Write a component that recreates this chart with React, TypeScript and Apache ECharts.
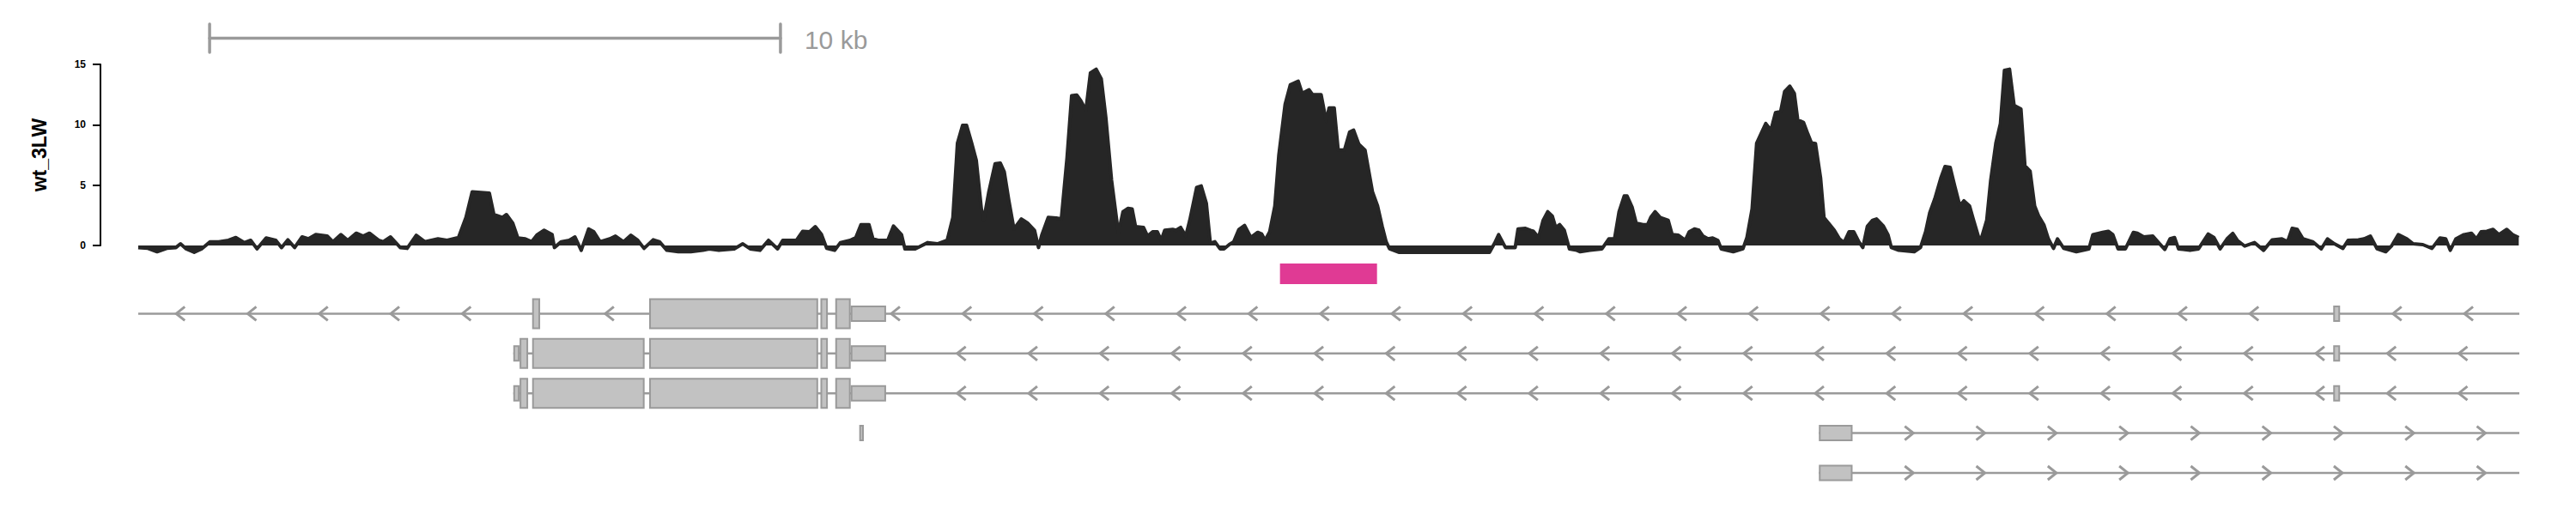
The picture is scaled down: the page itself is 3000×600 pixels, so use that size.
import React, { useEffect, useRef } from "react";
import * as echarts from "echarts";

// ---------- data (positions in kb from the left edge of the region) ----------
const REGION_KB = 41.71;
const trackName = "wt_3LW";
const yTicks = [0, 5, 10, 15];

const signalKb = [
  0.00, 0.17, 0.33, 0.50, 0.66, 0.74, 0.84, 0.98, 1.11, 1.26, 1.41, 1.58, 1.71, 1.86, 1.97, 2.08, 2.24, 2.41, 2.51, 2.62,
  2.74, 2.87, 2.98, 3.11, 3.31, 3.41, 3.55, 3.67, 3.82, 3.94, 4.05, 4.21, 4.29, 4.42, 4.59, 4.71, 4.87, 5.02, 5.25, 5.41,
  5.61, 5.74, 5.85, 6.15, 6.23, 6.38, 6.45, 6.56, 6.65, 6.78, 6.89, 6.99, 7.11, 7.25, 7.29, 7.41, 7.55, 7.65, 7.76, 7.89,
  7.98, 8.09, 8.26, 8.36, 8.50, 8.63, 8.75, 8.86, 9.02, 9.13, 9.26, 9.46, 9.68, 9.89, 10.00, 10.17, 10.44, 10.59, 10.72, 10.89,
  11.04, 11.20, 11.29, 11.53, 11.64, 11.76, 11.86, 11.97, 12.06, 12.20, 12.30, 12.47, 12.57, 12.66, 12.80, 12.87, 12.96, 13.13, 13.23, 13.37,
  13.43, 13.61, 13.83, 14.00, 14.17, 14.27, 14.35, 14.44, 14.51, 14.60, 14.68, 14.77, 14.81, 14.90, 15.01, 15.10, 15.17, 15.25, 15.34, 15.47,
  15.58, 15.70, 15.77, 15.83, 15.94, 16.08, 16.17, 16.27, 16.35, 16.44, 16.51, 16.60, 16.68, 16.78, 16.87, 16.95, 17.05, 17.17, 17.25, 17.34,
  17.41, 17.47, 17.61, 17.68, 17.77, 17.85, 17.92, 17.98, 18.12, 18.18, 18.26, 18.35, 18.42, 18.54, 18.62, 18.71, 18.78, 18.86, 18.95, 19.02,
  19.11, 19.19, 19.28, 19.38, 19.49, 19.61, 19.68, 19.74, 19.82, 19.91, 19.98, 20.09, 20.18, 20.32, 20.39, 20.51, 20.57, 20.72, 20.81, 20.86,
  20.95, 21.02, 21.13, 21.22, 21.29, 21.38, 21.49, 21.62, 21.71, 21.79, 21.86, 21.92, 22.09, 22.69, 23.67, 23.76, 23.83, 23.95, 24.12, 24.17,
  24.30, 24.39, 24.44, 24.53, 24.61, 24.69, 24.77, 24.83, 24.90, 24.98, 25.07, 25.20, 25.26, 25.43, 25.64, 25.76, 25.86, 25.94, 26.03, 26.08,
  26.17, 26.24, 26.36, 26.44, 26.50, 26.57, 26.66, 26.80, 26.87, 26.98, 27.10, 27.17, 27.26, 27.34, 27.41, 27.50, 27.58, 27.67, 27.73, 27.94,
  28.11, 28.18, 28.27, 28.35, 28.44, 28.51, 28.60, 28.68, 28.77, 28.84, 28.93, 29.01, 29.07, 29.17, 29.25, 29.31, 29.38, 29.47, 29.53, 29.61,
  29.71, 29.80, 29.88, 29.97, 30.05, 30.14, 30.21, 30.29, 30.38, 30.45, 30.57, 30.65, 30.71, 30.84, 31.11, 31.22, 31.31, 31.38, 31.47, 31.58,
  31.65, 31.74, 31.82, 31.91, 31.98, 32.08, 32.15, 32.24, 32.29, 32.38, 32.45, 32.54, 32.62, 32.69, 32.78, 32.86, 32.98, 33.05, 33.14, 33.22,
  33.29, 33.38, 33.46, 33.55, 33.62, 33.73, 33.95, 34.17, 34.24, 34.41, 34.51, 34.59, 34.68, 34.81, 34.95, 35.02, 35.13, 35.29, 35.40, 35.50,
  35.59, 35.67, 35.74, 35.94, 36.09, 36.26, 36.36, 36.47, 36.59, 36.69, 36.77, 36.90, 37.07, 37.23, 37.38, 37.55, 37.65, 37.73, 37.82, 37.92,
  38.09, 38.24, 38.35, 38.47, 38.62, 38.71, 38.89, 38.99, 39.10, 39.22, 39.37, 39.47, 39.59, 39.74, 39.85, 40.02, 40.18, 40.32, 40.42, 40.50,
  40.60, 40.74, 40.87, 40.96, 41.04, 41.14, 41.25, 41.35, 41.49, 41.59, 41.70,
];

const signalValue = [
  -0.17, -0.24, -0.52, -0.24, -0.17, 0.14, -0.28, -0.57, -0.28, 0.31, 0.31, 0.43, 0.66, 0.24, 0.43, -0.28, 0.62, 0.43, -0.17, 0.47,
  -0.17, 0.71, 0.55, 0.90, 0.78, 0.31, 0.90, 0.43, 1.02, 0.78, 1.02, 0.43, 0.31, 0.71, -0.17, -0.24, 0.85, 0.31, 0.55, 0.43,
  0.66, 2.32, 4.45, 4.34, 2.56, 2.32, 2.56, 1.85, 0.62, 0.55, 0.31, 0.90, 1.26, 0.90, -0.17, 0.31, 0.43, 0.71, -0.40, 1.37,
  1.14, 0.31, 0.55, 0.78, 0.31, 0.85, 0.43, -0.24, 0.47, 0.31, -0.40, -0.52, -0.52, -0.40, -0.28, -0.40, -0.28, 0.14, -0.28, -0.40,
  0.43, -0.28, 0.43, 0.43, 1.18, 1.14, 1.56, 0.90, -0.24, -0.40, 0.24, 0.43, 0.66, 1.73, 1.73, 0.55, 0.43, 0.43, 1.61, 0.90,
  -0.28, -0.28, 0.24, 0.14, 0.43, 2.32, 8.48, 9.95, 9.95, 8.48, 7.06, 3.03, 2.09, 4.45, 6.78, 6.83, 6.11, 3.74, 1.37, 2.20,
  1.85, 1.26, -0.17, 0.90, 2.32, 2.27, 2.20, 7.30, 12.40, 12.46, 12.00, 11.20, 14.30, 14.60, 13.80, 10.60, 5.40, 1.00, 2.80, 3.08,
  3.03, 1.56, 1.49, 0.78, 1.14, 1.14, 0.43, 1.26, 1.33, 1.26, 1.50, 0.78, 2.09, 4.81, 4.93, 3.50, 0.19, 0.31, -0.28, -0.28,
  0.07, 0.31, 1.33, 1.66, 0.66, 1.09, 0.95, 0.43, 1.14, 3.27, 7.50, 11.70, 13.30, 13.60, 12.60, 12.90, 12.50, 12.50, 10.30, 11.40,
  11.40, 7.90, 7.90, 9.40, 9.55, 8.40, 7.90, 4.45, 3.27, 1.60, 0.31, -0.28, -0.57, -0.57, -0.57, 0.19, 0.90, -0.17, -0.17, 1.37,
  1.42, 1.26, 1.18, 0.66, 2.09, 2.80, 2.44, 1.49, 1.73, 1.26, -0.28, -0.40, -0.52, -0.40, -0.28, 0.55, 0.55, 2.80, 4.10, 4.10,
  3.15, 1.85, 1.73, 1.73, 2.37, 2.80, 2.32, 2.09, 0.90, 0.85, 0.43, 1.14, 1.37, 1.26, 0.78, 0.55, 0.62, 0.43, -0.28, -0.52,
  -0.28, 0.66, 3.03, 8.48, 9.40, 10.10, 9.55, 11.00, 11.10, 12.75, 13.20, 12.60, 10.40, 10.20, 9.20, 8.50, 8.45, 5.60, 2.30, 1.85,
  1.26, 0.55, 0.24, 1.14, 1.14, 0.31, -0.17, 1.60, 2.09, 2.20, 1.60, 0.90, -0.17, -0.40, -0.52, -0.17, 1.14, 2.68, 3.86, 5.64,
  6.54, 6.47, 4.93, 3.27, 3.70, 3.27, 2.09, 0.66, 0.66, 2.09, 5.40, 8.48, 10.10, 14.50, 14.60, 11.60, 11.30, 6.60, 6.16, 3.27,
  2.44, 1.73, 0.55, -0.24, 0.55, -0.24, -0.52, -0.28, 0.90, 1.09, 1.18, 0.90, -0.28, -0.28, 1.09, 1.02, 0.71, 0.78, 0.19, -0.33,
  0.55, 0.66, -0.28, -0.40, -0.28, 0.95, 0.66, -0.28, 0.55, 1.00, 0.43, -0.05, 0.24, -0.40, 0.47, 0.55, 0.31, 1.42, 1.33, 0.55,
  0.31, -0.28, 0.55, 0.14, -0.24, 0.43, 0.47, 0.55, 0.78, -0.28, -0.52, -0.05, 0.90, 0.55, 0.14, 0.07, -0.24, 0.62, 0.55, -0.40,
  0.55, 0.90, 1.02, 0.55, 1.14, 1.18, 1.33, 0.90, 1.33, 0.90, 0.66,
];

const scaleBarStartKb = 1.25;
const scaleBarLengthKb = 10;
const scaleBarLabel = "10 kb";

// highlighted region (kb start, kb end)
const highlightStart = [20.0];
const highlightEnd = [21.7];

// transcripts: row, extent, strand, first arrow position (kb)
const txRow = [1, 2, 3, 4, 4, 5];
const txStart = [0.0, 6.57, 6.57, 12.63, 29.44, 29.44];
const txEnd = [41.71, 41.71, 41.71, 12.71, 41.71, 41.71];
const txStrand = [-1, -1, -1, 0, 1, 1];
const txArrowFrom = [0.74, 14.42, 14.42, 0, 31.02, 31.02];
// exons: [start, end, kind]
const txExons: [number, number, string][][] = [
  [[6.90, 7.04, "cds"], [8.95, 11.91, "cds"], [11.95, 12.08, "cds"], [12.21, 12.48, "cds"], [12.48, 13.10, "utr"], [38.45, 38.57, "utr"]],
  [[6.57, 6.68, "utr"], [6.68, 6.83, "cds"], [6.90, 8.87, "cds"], [8.95, 11.91, "cds"], [11.95, 12.08, "cds"], [12.21, 12.48, "cds"], [12.48, 13.10, "utr"], [38.45, 38.57, "utr"]],
  [[6.57, 6.68, "utr"], [6.68, 6.83, "cds"], [6.90, 8.87, "cds"], [8.95, 11.91, "cds"], [11.95, 12.08, "cds"], [12.21, 12.48, "cds"], [12.48, 13.10, "utr"], [38.45, 38.57, "utr"]],
  [[12.63, 12.71, "utr"]],
  [[29.44, 30.03, "utr"]],
  [[29.44, 30.03, "utr"]],
];
const ARROW_STEP_KB = 1.2526;

// ---------- styles ----------
const FONT = "'Liberation Sans', Arial, Helvetica, sans-serif";
const SIGNAL_COLOR = "#262626";
const GENE_LINE = "#9a9a9a";
const GENE_FILL = "#c2c2c2";
const HIGHLIGHT = "#e03a94";

const GRID_LEFT = 161;
const GRID_RIGHT = 66;

export default function App() {
  const ref = useRef<HTMLDivElement>(null);

  useEffect(() => {
    if (!ref.current) return;
    const chart = echarts.init(ref.current, null, { renderer: "svg" });

    const signalData = signalKb.map((x, i) => [x, signalValue[i]]);

    const geneRender = (params: any, api: any) => {
      const i = params.dataIndex;
      const row = txRow[i];
      const y = api.coord([0, row])[1];
      const children: any[] = [];
      const xs = api.coord([txStart[i], row])[0];
      const xe = api.coord([txEnd[i], row])[0];
      if (txEnd[i] - txStart[i] > 0.2) {
        children.push({
          type: "line",
          shape: { x1: xs, y1: y, x2: xe, y2: y },
          style: { stroke: GENE_LINE, lineWidth: 2.5 },
        });
      }
      const exons = txExons[i];
      if (txStrand[i] !== 0) {
        for (let p = txArrowFrom[i]; p < txEnd[i] - 0.05; p += ARROW_STEP_KB) {
          const hit = exons.some((e) => p + 0.14 > e[0] && p - 0.14 < e[1]);
          if (hit) continue;
          const cx = api.coord([p, row])[0];
          const d = txStrand[i] < 0 ? 1 : -1;
          children.push({
            type: "polyline",
            shape: { points: [[cx + 5 * d, y - 8], [cx - 5 * d, y], [cx + 5 * d, y + 8]] },
            style: { stroke: GENE_LINE, lineWidth: 3, fill: null, lineJoin: "miter" },
          });
        }
      }
      exons.forEach((e) => {
        const a = api.coord([e[0], row])[0];
        const b = api.coord([e[1], row])[0];
        const h = e[2] === "cds" ? 34 : 17;
        children.push({
          type: "rect",
          shape: { x: a + 1, y: y - h / 2, width: Math.max(b - a - 2, 3), height: h },
          style: { fill: GENE_FILL, stroke: GENE_LINE, lineWidth: 2 },
        });
      });
      return { type: "group", children };
    };

    const highlightRender = (params: any, api: any) => {
      const a = api.coord([api.value(0), 0]);
      const b = api.coord([api.value(1), 0]);
      return {
        type: "rect",
        shape: { x: a[0], y: a[1] - 12, width: b[0] - a[0], height: 24 },
        style: { fill: HIGHLIGHT },
      };
    };

    const scaleRender = (params: any, api: any) => {
      const a = api.coord([api.value(0), 0.5]);
      const b = api.coord([api.value(1), 0.5]);
      const top = api.coord([api.value(0), 1])[1];
      const bot = api.coord([api.value(0), 0])[1];
      const st = { stroke: "#9a9a9a", lineWidth: 3.5, lineCap: "round" };
      return {
        type: "group",
        children: [
          { type: "line", shape: { x1: a[0], y1: a[1], x2: b[0], y2: b[1] }, style: st },
          { type: "line", shape: { x1: a[0], y1: top, x2: a[0], y2: bot }, style: st },
          { type: "line", shape: { x1: b[0], y1: top, x2: b[0], y2: bot }, style: st },
          {
            type: "text",
            x: b[0] + 28,
            y: a[1] + 2,
            style: {
              text: scaleBarLabel,
              fill: "#9a9a9a",
              fontSize: 30,
              fontFamily: FONT,
              textAlign: "left",
              textVerticalAlign: "middle",
            },
          },
        ],
      };
    };

    const xCommon = { type: "value", min: 0, max: REGION_KB, show: false };

    chart.setOption({
      animation: false,
      backgroundColor: "#ffffff",
      textStyle: { fontFamily: FONT },
      grid: [
        { left: GRID_LEFT, right: GRID_RIGHT, top: 75, height: 211 },
        { left: GRID_LEFT, right: GRID_RIGHT, top: 295.8, height: 278.4 },
        { left: GRID_LEFT, right: GRID_RIGHT, top: 28, height: 33 },
      ],
      xAxis: [
        { ...xCommon, gridIndex: 0 },
        { ...xCommon, gridIndex: 1 },
        { ...xCommon, gridIndex: 2 },
      ],
      yAxis: [
        {
          gridIndex: 0,
          type: "value",
          position: "left",
          min: yTicks[0],
          max: yTicks[yTicks.length - 1],
          interval: 5,
          offset: 44,
          name: trackName,
          nameLocation: "middle",
          nameGap: 60,
          nameTextStyle: { fontSize: 23, fontWeight: "bold", color: "#000", fontFamily: FONT },
          axisLine: { show: true, onZero: false, lineStyle: { color: "#000", width: 2 } },
          axisTick: { show: true, length: 9, lineStyle: { color: "#000", width: 2 } },
          axisLabel: { fontSize: 12, fontWeight: "bold", color: "#000", margin: 17, fontFamily: FONT },
          splitLine: { show: false },
        },
        { gridIndex: 1, type: "value", min: -0.5, max: 5.5, inverse: true, show: false },
        { gridIndex: 2, type: "value", min: 0, max: 1, show: false },
      ],
      series: [
        {
          type: "line",
          xAxisIndex: 0,
          yAxisIndex: 0,
          data: signalData,
          showSymbol: false,
          clip: false,
          lineStyle: { color: SIGNAL_COLOR, width: 4, join: "round" },
          areaStyle: { color: SIGNAL_COLOR, opacity: 1, origin: 0 },
          silent: true,
        },
        {
          type: "custom",
          xAxisIndex: 1,
          yAxisIndex: 1,
          clip: false,
          data: highlightStart.map((s, i) => [s, highlightEnd[i], 0]),
          encode: { x: [0, 1], y: 2 },
          renderItem: highlightRender,
          silent: true,
        },
        {
          type: "custom",
          xAxisIndex: 1,
          yAxisIndex: 1,
          clip: false,
          data: txRow.map((r, i) => [txStart[i], txEnd[i], r]),
          encode: { x: [0, 1], y: 2 },
          renderItem: geneRender,
          silent: true,
        },
        {
          type: "custom",
          xAxisIndex: 2,
          yAxisIndex: 2,
          clip: false,
          data: [[scaleBarStartKb, scaleBarStartKb + scaleBarLengthKb, 0.5]],
          encode: { x: [0, 1], y: 2 },
          renderItem: scaleRender,
          silent: true,
        },
      ],
    });

    return () => chart.dispose();
  }, []);

  return (
    <div
      ref={ref}
      style={{ position: "absolute", left: 0, top: 0, width: 3000, height: 600, background: "#fff" }}
    />
  );
}
